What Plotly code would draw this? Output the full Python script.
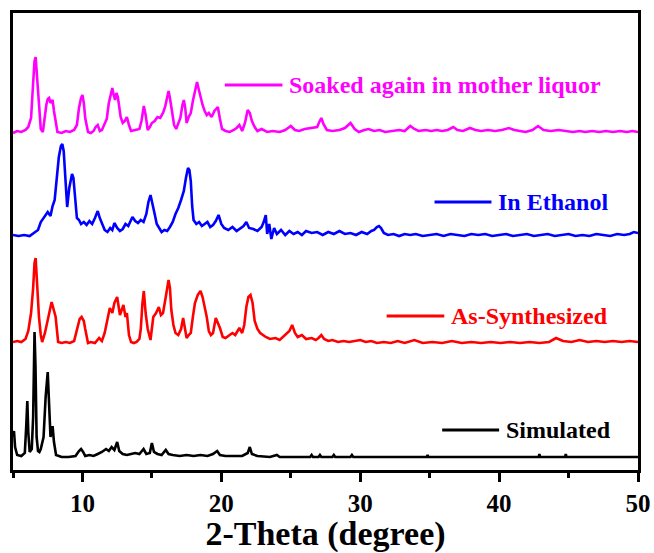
import plotly.graph_objects as go

# ---------------- data (2-theta in degrees, intensity in arbitrary units above each baseline) ----------------
sim_x = [5.0, 5.07, 5.15, 5.3, 5.6, 5.85, 5.95, 6.03, 6.1, 6.2,
         6.35, 6.45, 6.55, 6.62, 6.7, 6.8, 6.9, 7.0, 7.2, 7.35,
         7.5, 7.6, 7.7, 7.85, 7.95, 8.1, 8.5, 9.0, 9.5, 9.75,
         9.9, 10.05, 10.2, 10.5, 10.8, 11.1, 11.4, 11.7, 11.9, 12.1,
         12.3, 12.5, 12.65, 12.9, 13.2, 13.5, 13.8, 14.1, 14.4, 14.6,
         14.85, 15.0, 15.15, 15.4, 15.7, 16.0, 16.2, 16.5, 17.0, 17.5,
         18.0, 18.5, 19.0, 19.4, 19.7, 19.9, 20.3, 21.0, 21.5, 21.9,
         22.05, 22.2, 22.6, 23.5, 24.0, 24.2, 25.0, 26.4, 26.5, 26.6,
         27.0, 27.1, 27.2, 28.0, 28.1, 28.2, 29.3, 29.4, 29.5, 34.8,
         34.85, 34.9, 42.85, 42.9, 42.95, 44.75, 44.8, 44.85, 50.0]
sim_y = [20, 26, 10, 2, 1, 4, 30, 56, 25, 5,
         8, 40, 125, 90, 20, 6, 5, 8, 20, 60,
         85, 50, 20, 31, 15, 2, 0, 0, 1, 6,
         8, 5, 1, 2, 1, 3, 5, 8, 6, 10,
         7, 15, 6, 3, 2, 3, 4, 3, 8, 3,
         4, 14, 5, 3, 2, 7, 3, 2, 1, 2,
         1, 2, 1, 3, 6, 2, 1, 1, 1, 4,
         10, 3, 1, 0, 2, 0, 0, 0, 2, 0,
         0, 2, 0, 0, 2, 0, 0, 2, 0, 0,
         2, 0, 0, 3, 0, 0, 3, 0, 0]

asy_x = [5.0, 5.3, 5.6, 5.9, 6.1, 6.3, 6.45, 6.55, 6.63, 6.72,
         6.87, 7.0, 7.1, 7.3, 7.5, 7.65, 7.78, 7.9, 8.07, 8.25,
         8.5, 8.8, 9.1, 9.4, 9.6, 9.8, 9.94, 10.1, 10.2, 10.4,
         10.6, 10.9, 11.2, 11.4, 11.6, 11.8, 11.97, 12.15, 12.3, 12.5,
         12.6, 12.7, 12.85, 12.95, 13.1, 13.2, 13.35, 13.5, 13.7, 13.9,
         14.1, 14.2, 14.32, 14.42, 14.55, 14.7, 14.9, 15.1, 15.3, 15.5,
         15.65, 15.8, 15.95, 16.1, 16.2, 16.3, 16.4, 16.55, 16.7, 16.9,
         17.1, 17.25, 17.4, 17.5, 17.65, 17.8, 17.95, 18.1, 18.3, 18.5,
         18.65, 18.8, 18.95, 19.1, 19.25, 19.4, 19.6, 19.75, 19.9, 20.1,
         20.3, 20.6, 20.8, 21.0, 21.3, 21.5, 21.65, 21.8, 21.95, 22.1,
         22.25, 22.4, 22.6, 22.8, 23.0, 23.2, 23.5, 23.9, 24.2, 24.6,
         24.9, 25.1, 25.3, 25.5, 25.8, 26.1, 26.5, 26.8, 27.0, 27.2,
         27.4, 27.7, 28.0, 28.4, 28.8, 29.2, 29.6, 30.0, 30.4, 30.8,
         31.2, 31.7, 32.2, 32.7, 33.2, 33.9, 34.5, 35.2, 35.9, 36.6,
         37.3, 38.0, 38.7, 39.4, 40.1, 40.8, 41.5, 42.2, 42.9, 43.6,
         44.1, 44.6, 45.2, 45.8, 46.4, 47.0, 47.6, 48.2, 48.8, 49.4,
         50.0]
asy_y = [1, 2, 1, 4, 12, 30, 55, 80, 85, 60,
         26, 8, 1, 10, 23, 35, 41, 35, 26, 1,
         0, 1, 0, 2, 14, 24, 26, 22, 14, 0,
         1, 0, 5, 2, 10, 22, 35, 30, 40, 46,
         36, 28, 34, 38, 26, 30, 8, 1, 0, 1,
         4, 14, 40, 52, 30, 14, 3, 26, 30, 36,
         28, 30, 42, 58, 63, 55, 33, 18, 10, 8,
         14, 25, 12, 5, 8, 10, 26, 40, 48, 52,
         46, 36, 26, 12, 8, 10, 25, 20, 15, 6,
         5, 8, 10, 8, 15, 10, 18, 36, 46, 48,
         40, 22, 14, 10, 8, 6, 4, 5, 3, 8,
         12, 18, 10, 6, 8, 4, 5, 3, 5, 8,
         4, 2, 3, 1, 2, 1, 2, 3, 1, 2,
         0, 1, 0, 2, 0, 3, 0, 1, 0, 2,
         0, 1, 0, 1, 0, 1, 0, 1, 0, 1,
         5, 2, 1, 3, 1, 2, 1, 2, 1, 2,
         1]

eth_x = [5.0, 5.4, 5.8, 6.2, 6.5, 6.8, 7.0, 7.2, 7.5, 7.7,
         7.85, 8.0, 8.15, 8.3, 8.45, 8.55, 8.65, 8.75, 8.9, 9.05,
         9.15, 9.25, 9.35, 9.45, 9.6, 9.75, 9.9, 10.1, 10.3, 10.5,
         10.7, 10.9, 11.1, 11.25, 11.4, 11.6, 11.8, 12.0, 12.15, 12.3,
         12.5, 12.7, 12.9, 13.1, 13.3, 13.45, 13.6, 13.8, 14.0, 14.2,
         14.4, 14.6, 14.75, 14.9, 15.05, 15.2, 15.35, 15.5, 15.7, 15.9,
         16.1, 16.3, 16.5, 16.7, 16.9, 17.1, 17.3, 17.45, 17.6, 17.7,
         17.8, 17.9, 18.0, 18.2, 18.4, 18.6, 18.8, 19.0, 19.2, 19.4,
         19.6, 19.8, 20.0, 20.2, 20.5, 20.8, 21.1, 21.4, 21.6, 21.8,
         22.0, 22.3, 22.6, 22.9, 23.05, 23.2, 23.3, 23.45, 23.6, 23.8,
         24.0, 24.3, 24.6, 24.9, 25.2, 25.5, 25.8, 26.1, 26.5, 26.9,
         27.3, 27.7, 28.1, 28.5, 28.9, 29.3, 29.7, 30.1, 30.5, 30.8,
         31.0, 31.2, 31.35, 31.5, 31.7, 32.0, 32.4, 32.8, 33.2, 33.6,
         34.0, 34.5, 35.0, 35.5, 36.0, 36.5, 37.0, 37.5, 38.0, 38.5,
         39.0, 39.5, 40.0, 40.5, 41.0, 41.5, 42.0, 42.5, 43.0, 43.5,
         44.0, 44.5, 45.0, 45.5, 46.0, 46.5, 47.0, 47.5, 48.0, 48.5,
         49.0, 49.4, 49.7, 50.0]
eth_y = [1, 0, 1, 0, 3, 6, 14, 18, 24, 20,
         30, 36, 55, 79, 90, 92, 85, 60, 29, 48,
         55, 62, 58, 40, 18, 16, 12, 14, 11, 15,
         12, 18, 25, 18, 12, 6, 4, 8, 6, 13,
         8, 5, 7, 12, 10, 14, 19, 15, 13, 16,
         14, 22, 34, 41, 30, 22, 12, 8, 4, 6,
         5, 9, 14, 22, 28, 36, 45, 58, 68, 66,
         55, 30, 16, 12, 14, 10, 12, 14, 9, 11,
         15, 21, 12, 8, 6, 9, 5, 8, 10, 14,
         8, 7, 5, 9, 14, 21, 2, 12, -3, 8,
         2, 6, 1, 5, 2, 4, 1, 5, 3, 4,
         1, 4, 2, 5, 2, 3, 1, 4, 2, 5,
         6, 9, 10, 8, 3, 1, 2, 0, 2, 1,
         2, 0, 1, 2, 0, 2, 1, 0, 2, 1,
         2, 0, 1, 2, 0, 1, 2, 0, 1, 2,
         0, 1, 2, 0, 1, 0, 2, 1, 0, 2,
         1, 2, 4, 3]

soak_x = [5.0, 5.3, 5.6, 5.9, 6.1, 6.3, 6.45, 6.55, 6.63, 6.7,
          6.85, 7.0, 7.15, 7.3, 7.4, 7.5, 7.6, 7.7, 7.85, 7.95,
          8.05, 8.2, 8.5, 8.8, 9.1, 9.4, 9.6, 9.75, 9.9, 10.0,
          10.1, 10.2, 10.4, 10.6, 10.8, 10.95, 11.1, 11.25, 11.4, 11.6,
          11.75, 11.9, 12.05, 12.15, 12.25, 12.35, 12.45, 12.55, 12.75, 12.9,
          13.05, 13.2, 13.35, 13.5, 13.8, 14.1, 14.25, 14.42, 14.55, 14.7,
          14.85, 15.0, 15.2, 15.4, 15.6, 15.8, 15.95, 16.1, 16.2, 16.3,
          16.45, 16.6, 16.75, 16.9, 17.05, 17.2, 17.3, 17.4, 17.5, 17.65,
          17.8, 17.95, 18.1, 18.25, 18.35, 18.5, 18.65, 18.8, 18.95, 19.1,
          19.3, 19.5, 19.65, 19.75, 19.9, 20.05, 20.3, 20.6, 20.9, 21.1,
          21.3, 21.5, 21.7, 21.9, 22.05, 22.2, 22.4, 22.6, 22.9, 23.3,
          23.7, 24.2, 24.6, 25.0, 25.3, 25.6, 26.0, 26.5, 26.9, 27.05,
          27.2, 27.35, 27.6, 28.0, 28.5, 28.9, 29.3, 29.6, 29.9, 30.3,
          30.6, 31.0, 31.4, 31.8, 32.3, 32.8, 33.2, 33.6, 33.9, 34.2,
          34.7, 35.1, 35.5, 35.9, 36.3, 36.7, 37.0, 37.4, 37.9, 38.3,
          38.7, 39.2, 39.7, 40.2, 40.7, 41.1, 41.5, 41.9, 42.4, 42.8,
          43.2, 43.7, 44.3, 44.8, 45.3, 45.8, 46.2, 46.7, 47.2, 47.7,
          48.2, 48.7, 49.2, 49.6, 50.0]
soak_y = [0, 2, 1, 3, 6, 15, 50, 72, 76, 62,
          40, 4, 1, 18, 28, 34, 35, 30, 33, 22,
          12, 1, 0, 2, 1, 3, 8, 25, 35, 38,
          30, 15, 1, 0, 2, 6, 8, 2, 3, 10,
          14, 30, 40, 45, 38, 33, 40, 36, 16, 10,
          12, 16, 8, 2, 3, 4, 12, 27, 18, 3,
          6, 10, 12, 16, 15, 20, 26, 34, 42, 35,
          22, 8, 4, 9, 15, 28, 33, 25, 10, 16,
          20, 32, 40, 51, 45, 36, 28, 22, 18, 20,
          16, 22, 24, 26, 14, 4, 2, 1, 3, 5,
          8, 2, 10, 23, 20, 12, 6, 2, 4, 1,
          2, 1, 3, 7, 3, 2, 4, 5, 6, 11,
          15, 9, 3, 2, 3, 5, 10, 4, 1, 3,
          4, 2, 3, 1, 2, 3, 2, 7, 4, 2,
          3, 2, 3, 2, 3, 6, 3, 2, 5, 3,
          2, 3, 2, 3, 5, 3, 2, 1, 3, 7,
          3, 2, 3, 2, 1, 2, 1, 2, 1, 2,
          1, 2, 1, 2, 1]

series_names = ["Simulated", "As-Synthesized", "In Ethanol", "Soaked again in mother liquor"]
series_x = [sim_x, asy_x, eth_x, soak_x]
series_y = [sim_y, asy_y, eth_y, soak_y]
offsets = [13, 127, 234, 337]           # vertical stacking offsets
colors = ["#000000", "#FF0000", "#0000FF", "#FF00FF"]
# legend label anchors: (line x0, line x1, text x, y) in data units
label_pos = [(35.9, 40.0, 40.35, 40),
             (31.9, 36.05, 36.4, 154),
             (35.35, 39.45, 39.8, 268),
             (20.25, 24.4, 24.75, 385)]

FONT = "Liberation Serif"

fig = go.Figure()
for name, xs, ys, off, col in zip(series_names, series_x, series_y, offsets, colors):
    fig.add_trace(go.Scatter(x=xs, y=[v + off for v in ys], mode="lines", name=name,
                             line=dict(color=col, width=2.6), showlegend=False))

for name, col, (lx0, lx1, tx, ly) in zip(series_names, colors, label_pos):
    fig.add_shape(type="line", xref="x", yref="y", x0=lx0, x1=lx1, y0=ly, y1=ly,
                  line=dict(color=col, width=3))
    fig.add_annotation(x=tx, y=ly, xref="x", yref="y", text=name, showarrow=False,
                       xanchor="left", yanchor="middle",
                       font=dict(family=FONT, size=24, color=col, weight="bold"))

fig.update_layout(
    width=654, height=553,
    margin=dict(l=13, r=16, t=13, b=83, autoexpand=False),
    plot_bgcolor="white", paper_bgcolor="white",
    showlegend=False,
)
fig.update_xaxes(
    range=[5, 50], tick0=0, dtick=10, ticks="outside", ticklen=9, tickwidth=3,
    tickcolor="black", showline=True, linewidth=3, linecolor="black", mirror=True,
    showgrid=False, zeroline=False, automargin=False,
    tickfont=dict(family=FONT, size=25, color="black", weight="bold"),
    minor=dict(tickmode="linear", tick0=5, dtick=10, ticks="outside", ticklen=5,
               tickwidth=3, tickcolor="black", showgrid=False),
    title=dict(text="2-Theta (degree)", standoff=6,
               font=dict(family=FONT, size=34, color="black", weight="bold")),
)
fig.update_yaxes(
    range=[0, 457], showticklabels=False, ticks="", showgrid=False, zeroline=False,
    showline=True, linewidth=3, linecolor="black", mirror=True, automargin=False,
)

fig.write_html("out.html")
